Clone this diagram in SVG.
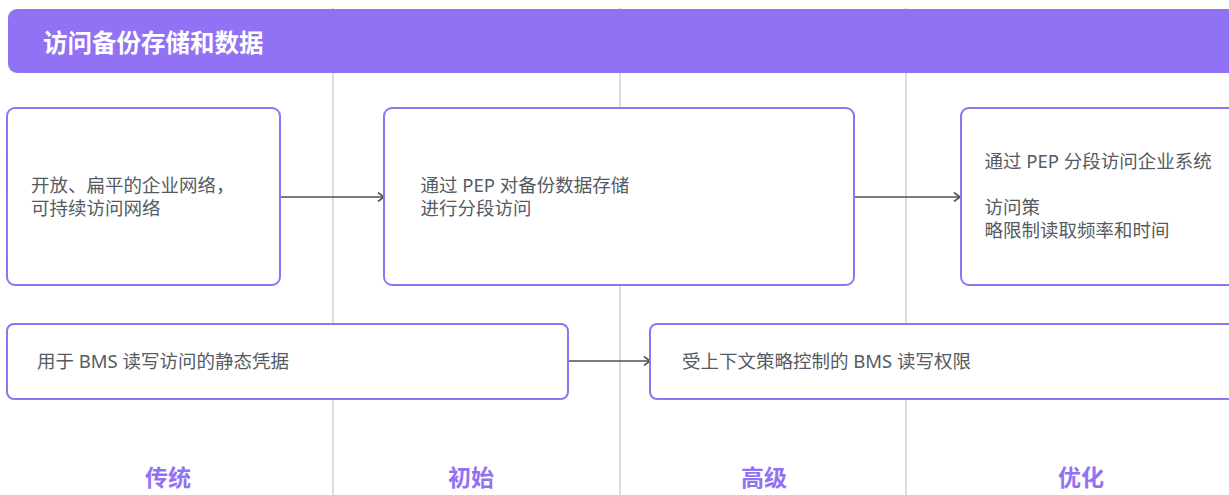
<svg xmlns="http://www.w3.org/2000/svg" width="1229" height="495" viewBox="0 0 1229 495">
<defs>
<style>
.lane{stroke:#d2d2d2;stroke-width:1.5;fill:none}
.box{fill:#ffffff;stroke:#9272f2;stroke-width:2}
.txt{font-family:"Noto Sans","Noto Sans CJK SC",sans-serif;font-size:18.5px;fill:#555b62}
.title{font-family:"Noto Sans CJK SC",sans-serif;font-size:24.5px;font-weight:bold;fill:#ffffff}
.lbl{font-family:"Noto Sans CJK SC",sans-serif;font-size:23px;font-weight:bold;fill:#9272f2;text-anchor:middle}
.conn{stroke:#4b5158;stroke-width:1.6;fill:none}
</style>
<marker id="arr" viewBox="0 0 10 10" refX="9" refY="5" markerWidth="10" markerHeight="10" markerUnits="userSpaceOnUse" orient="auto">
<path d="M3,0.5 L9,5 L3,9.5" fill="none" stroke="#4b5158" stroke-width="1.6"/>
</marker>
</defs>
<rect width="1229" height="495" fill="#ffffff"/>
<g id="lanes">
<line class="lane" x1="333" y1="8" x2="333" y2="495"/>
<line class="lane" x1="620" y1="8" x2="620" y2="495"/>
<line class="lane" x1="906" y1="8" x2="906" y2="495"/>
</g>
<g id="header">
<rect x="8" y="9" width="1240" height="64" rx="9" fill="#9272f4"/>
<text class="title" x="43" y="52">访问备份存储和数据</text>
</g>
<g id="connectors">
<line class="conn" x1="281" y1="197" x2="384" y2="197" marker-end="url(#arr)"/>
<line class="conn" x1="855" y1="197" x2="960" y2="197" marker-end="url(#arr)"/>
<line class="conn" x1="569" y1="361" x2="650" y2="361" marker-end="url(#arr)"/>
</g>
<g id="node-traditional">
<rect class="box" x="7" y="108" width="273" height="177" rx="8"/>
<text class="txt" x="31" y="191.5">开放、扁平的企业网络，</text>
<text class="txt" x="31" y="214.5">可持续访问网络</text>
</g>
<g id="node-initial">
<rect class="box" x="384" y="108" width="470" height="177" rx="8"/>
<text class="txt" x="420.5" y="191.5">通过 PEP 对备份数据存储</text>
<text class="txt" x="420.5" y="214.5">进行分段访问</text>
</g>
<g id="node-optimal">
<rect class="box" x="961" y="108" width="280" height="177" rx="8"/>
<text class="txt" x="984.5" y="168">通过 PEP 分段访问企业系统</text>
<text class="txt" x="984.5" y="214">访问策</text>
<text class="txt" x="984.5" y="237">略限制读取频率和时间</text>
</g>
<g id="node-static">
<rect class="box" x="7" y="324" width="561" height="75" rx="7"/>
<text class="txt" x="37" y="368">用于 BMS 读写访问的静态凭据</text>
</g>
<g id="node-context">
<rect class="box" x="650" y="324" width="590" height="75" rx="7"/>
<text class="txt" x="682" y="368">受上下文策略控制的 BMS 读写权限</text>
</g>
<g id="labels">
<text class="lbl" x="168" y="486">传统</text>
<text class="lbl" x="471" y="486">初始</text>
<text class="lbl" x="764" y="486">高级</text>
<text class="lbl" x="1081" y="486">优化</text>
</g>
</svg>
